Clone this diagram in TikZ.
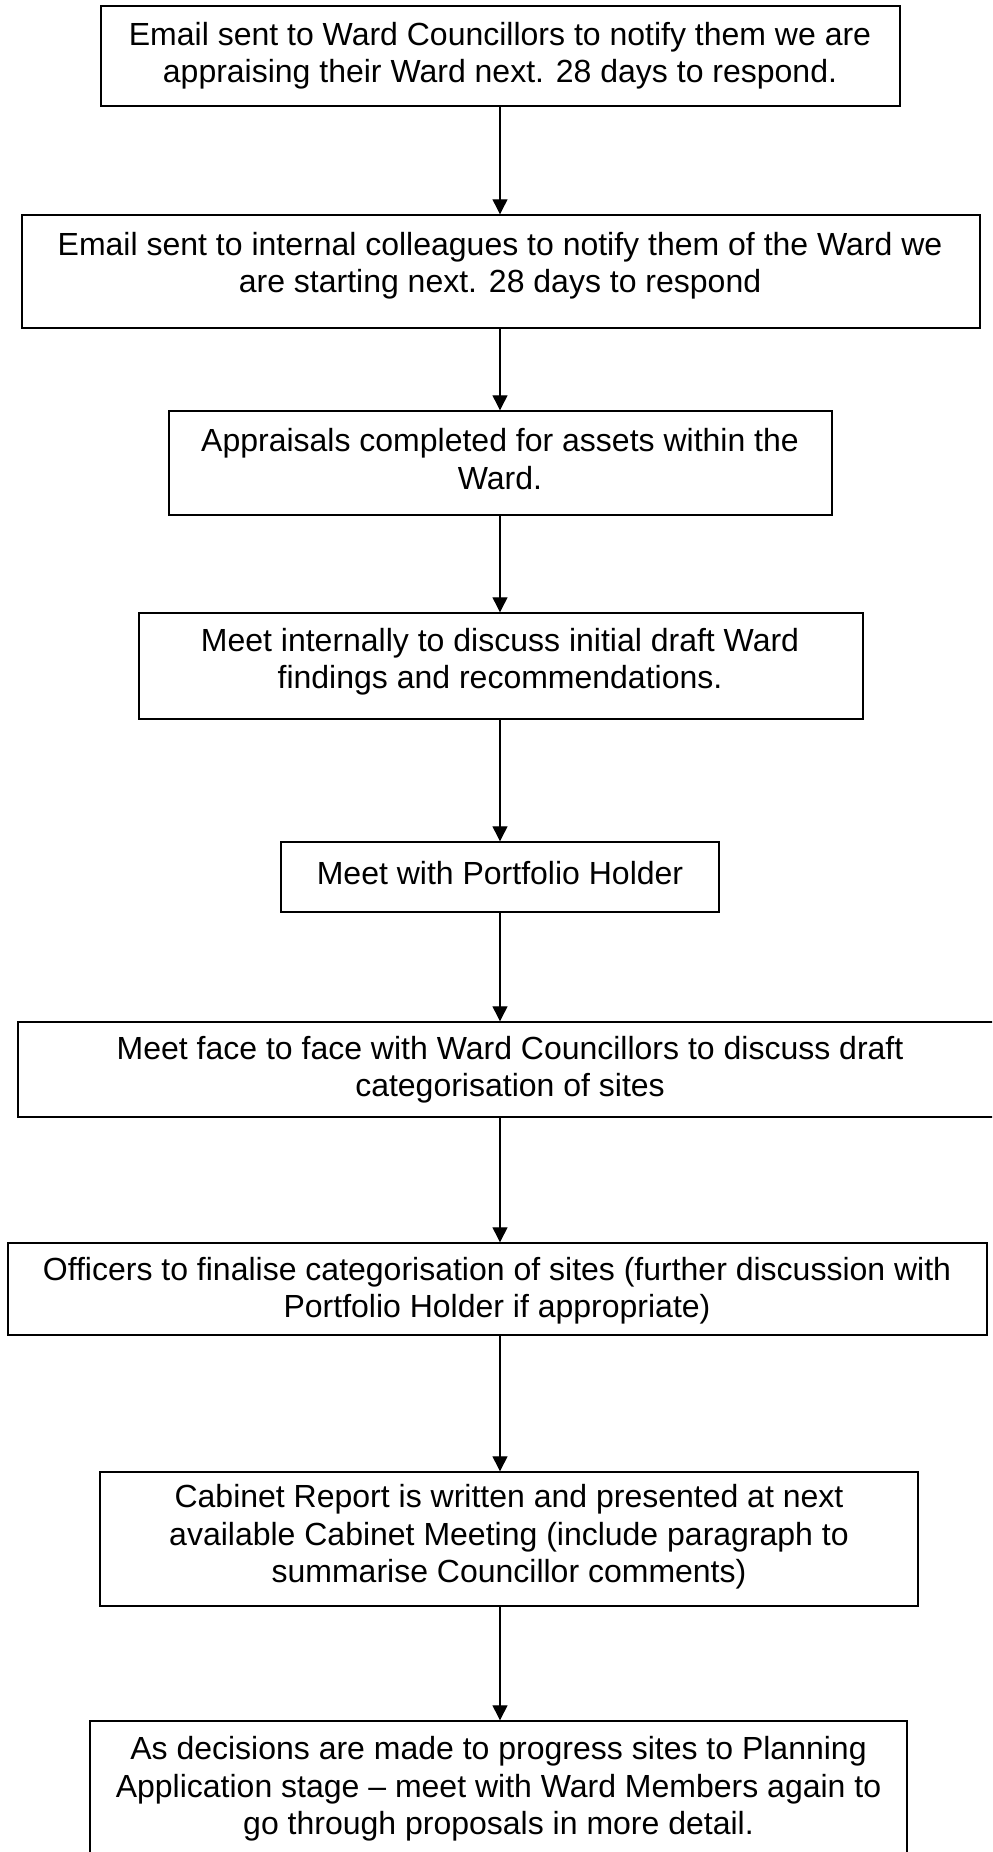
\documentclass[tikz,border=0pt]{standalone}
\usepackage{fontspec}
\setmainfont{Liberation Sans}
\usetikzlibrary{arrows.meta}
\tikzset{
  box/.style={draw=black, line width=0.7pt, inner sep=0pt, fill=white},
  txt/.style={align=center, inner sep=0pt, font=\fontsize{16}{18.7}\selectfont},
  conn/.style={line width=0.6pt, -{Triangle[width=7.5pt,length=7.5pt]}}
}
\begin{document}
\begin{tikzpicture}[x=0.5pt,y=-0.5pt]
\useasboundingbox (0,0) rectangle (992,1852);
\clip (0,0) rectangle (992,1852);
% boxes
\node[box, minimum width=399.5pt, minimum height=50pt] (b1) at (500.5,56) {};
\node[box, minimum width=479pt, minimum height=56.5pt] (b2) at (501,271.5) {};
\node[box, minimum width=331.5pt, minimum height=52pt] (b3) at (500.5,463) {};
\node[box, minimum width=362pt, minimum height=53pt] (b4) at (501,666) {};
\node[box, minimum width=219pt, minimum height=35pt] (b5) at (500,877) {};
\node[box, minimum width=492pt, minimum height=47.5pt] (b6) at (510,1069.5) {};
\node[box, minimum width=489.5pt, minimum height=46pt] (b7) at (497.5,1289) {};
\node[box, minimum width=409pt, minimum height=67pt] (b8) at (509,1539) {};
\node[box, minimum width=408.5pt, minimum height=70pt] (b9) at (498.5,1791) {};
% texts
\node[txt] (t1) at (500,56) {Email sent to Ward Councillors to notify them we are\\appraising their Ward next. 28 days to respond.};
\node[txt] (t2) at (500,266) {Email sent to internal colleagues to notify them of the Ward we\\are starting next. 28 days to respond};
\node[txt] (t3) at (500,459) {Appraisals completed for assets within the\\Ward.};
\node[txt] (t4) at (500,662) {Meet internally to discuss initial draft Ward\\findings and recommendations.};
\node[txt] (t5) at (500,873) {Meet with Portfolio Holder};
\node[txt] (t6) at (510,1070) {Meet face to face with Ward Councillors to discuss draft\\categorisation of sites};
\node[txt] (t7) at (497,1291) {Officers to finalise categorisation of sites (further discussion with\\Portfolio Holder if appropriate)};
\node[txt] (t8) at (509,1537) {Cabinet Report is written and presented at next\\available Cabinet Meeting (include paragraph to\\summarise Councillor comments)};
\node[txt] (t9) at (498.5,1789) {As decisions are made to progress sites to Planning\\Application stage \textendash{} meet with Ward Members again to\\go through proposals in more detail.};
% connectors
\draw[conn] (b1.south -| 500,0) -- (b2.north -| 500,0);
\draw[conn] (b2.south -| 500,0) -- (b3.north -| 500,0);
\draw[conn] (b3.south -| 500,0) -- (b4.north -| 500,0);
\draw[conn] (b4.south -| 500,0) -- (b5.north -| 500,0);
\draw[conn] (b5.south -| 500,0) -- (b6.north -| 500,0);
\draw[conn] (b6.south -| 500,0) -- (b7.north -| 500,0);
\draw[conn] (b7.south -| 500,0) -- (b8.north -| 500,0);
\draw[conn] (b8.south -| 500,0) -- (b9.north -| 500,0);
\end{tikzpicture}
\end{document}
